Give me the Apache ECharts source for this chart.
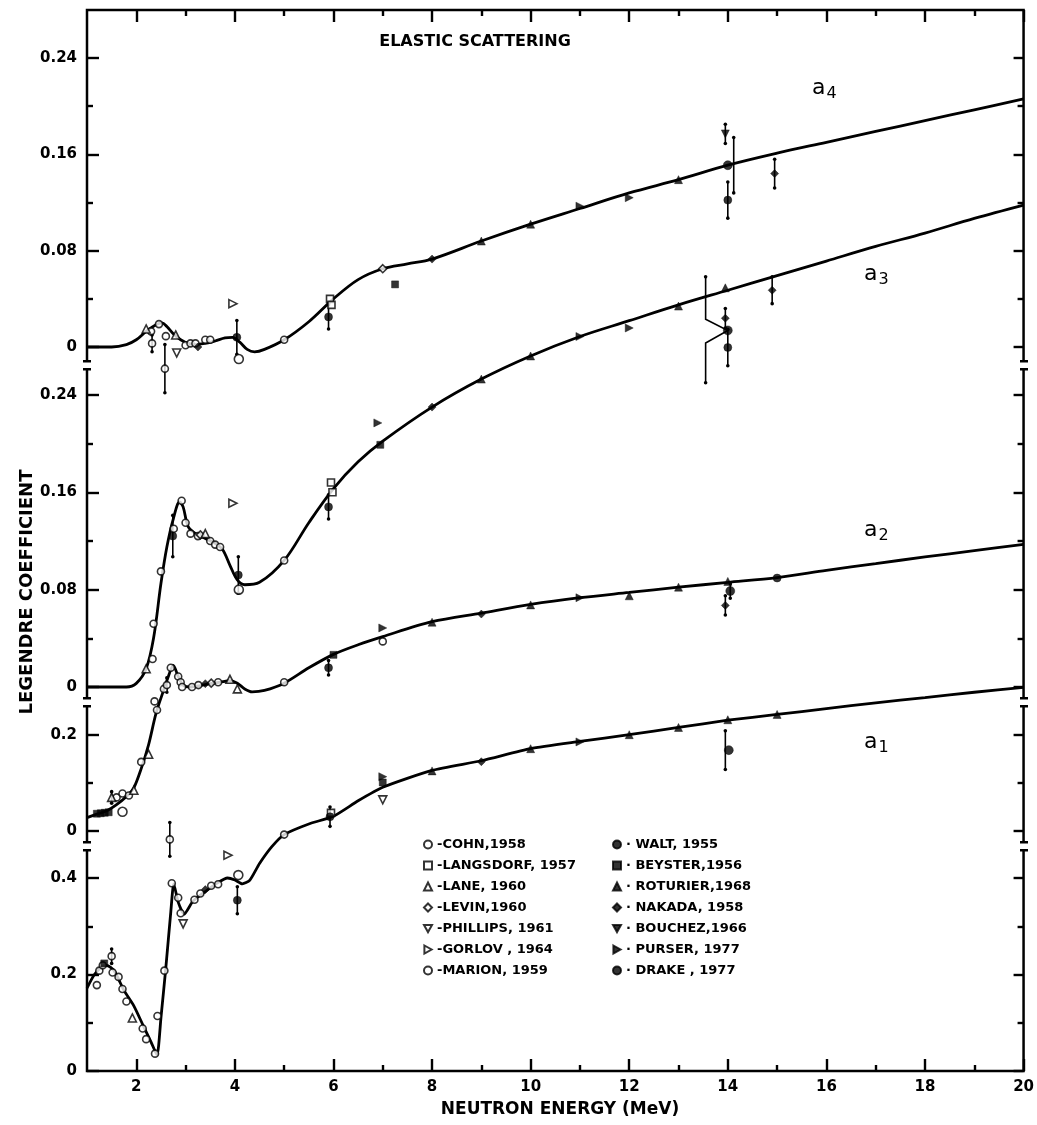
<!DOCTYPE html>
<html><head><meta charset="utf-8">
<script src="https://cdn.jsdelivr.net/npm/echarts@6.0.0/dist/echarts.min.js"></script>
<style>html,body{margin:0;padding:0;background:#fff}#c{width:1037px;height:1125px}</style>
</head><body><div id="c"></div><script>
// ---------------- DATA ----------------
const X_MIN = 1, X_MAX = 20;
const X_MAJOR = [2,4,6,8,10,12,14,16,18,20];
const X_MINOR = [3,5,7,9,11,13,15,17,19];

const A4_MAJOR = [0,0.08,0.16,0.24], A4_MINOR = [0.04,0.12,0.20];
const A3_MAJOR = [0,0.08,0.16,0.24], A3_MINOR = [0.04,0.12,0.20];
const A2_MAJOR = [0,0.2], A2_MINOR = [0.1];
const A1_MAJOR = [0,0.2,0.4], A1_MINOR = [0.1,0.3];

const LEGEND_LEFT = ['COHN,1958','LANGSDORF, 1957','LANE, 1960','LEVIN,1960','PHILLIPS, 1961','GORLOV , 1964','MARION, 1959'];
const LEGEND_RIGHT = ['WALT, 1955','BEYSTER,1956','ROTURIER,1968','NAKADA, 1958','BOUCHEZ,1966','PURSER, 1977','DRAKE , 1977'];

const A4_CURVE = [[1,0],[1.5,0],[1.8,0.002],[2.0,0.006],[2.2,0.013],[2.4,0.0185],[2.52,0.02],[2.62,0.017],[2.75,0.011],[2.9,0.006],[3.05,0.003],[3.2,0.002],[3.4,0.003],[3.6,0.005],[3.8,0.0075],[3.95,0.008],[4.1,0.004],[4.25,-0.002],[4.4,-0.004],[4.6,-0.002],[5.0,0.006],[5.5,0.021],[6.0,0.04],[6.5,0.056],[7.0,0.065],[7.5,0.069],[8.0,0.073],[9,0.088],[10,0.102],[11,0.115],[12,0.128],[13,0.139],[14,0.151],[15,0.161],[16,0.17],[17,0.179],[18,0.188],[19,0.197],[20,0.206]];
const A3_CURVE = [[1,0],[1.8,0],[2.0,0.003],[2.2,0.015],[2.35,0.04],[2.5,0.085],[2.62,0.115],[2.75,0.138],[2.88,0.152],[2.95,0.148],[3.05,0.132],[3.2,0.126],[3.4,0.122],[3.6,0.118],[3.75,0.113],[3.9,0.1],[4.05,0.088],[4.2,0.084],[4.5,0.086],[5.0,0.104],[5.5,0.135],[6.0,0.163],[6.5,0.185],[7.0,0.202],[8,0.23],[9,0.253],[10,0.272],[11,0.288],[12,0.301],[13,0.314],[14,0.326],[15,0.338],[16,0.35],[17,0.362],[18,0.373],[19,0.385],[20,0.396]];
const A2_CURVE = [[1,0.028],[1.2,0.035],[1.4,0.042],[1.6,0.055],[1.8,0.072],[1.95,0.09],[2.1,0.13],[2.25,0.18],[2.4,0.245],[2.55,0.292],[2.65,0.322],[2.75,0.345],[2.85,0.322],[2.95,0.304],[3.1,0.3],[3.3,0.303],[3.5,0.307],[3.7,0.31],[3.9,0.313],[4.05,0.308],[4.2,0.296],[4.35,0.29],[4.6,0.293],[5.0,0.308],[5.5,0.34],[6.0,0.368],[6.5,0.388],[7.0,0.405],[8,0.436],[9,0.454],[10,0.472],[11,0.486],[12,0.497],[13,0.508],[14,0.518],[15,0.528],[16,0.543],[17,0.557],[18,0.571],[19,0.584],[20,0.597]];
const A1_CURVE = [[1,0.172],[1.15,0.2],[1.3,0.216],[1.4,0.219],[1.55,0.208],[1.75,0.167],[1.95,0.135],[2.15,0.092],[2.3,0.06],[2.42,0.033],[2.5,0.11],[2.6,0.215],[2.7,0.33],[2.76,0.388],[2.85,0.35],[2.97,0.325],[3.15,0.352],[3.4,0.372],[3.65,0.39],[3.85,0.4],[4.0,0.396],[4.15,0.388],[4.3,0.395],[4.5,0.43],[4.75,0.465],[5.0,0.49],[5.5,0.512],[6.0,0.528],[6.5,0.56],[7.0,0.588],[8,0.623],[9,0.643],[10,0.668],[11,0.683],[12,0.697],[13,0.712],[14,0.727],[15,0.739],[16,0.751],[17,0.763],[18,0.774],[19,0.785],[20,0.795]];

const A4_COHN = [[2.3,0.013],[2.32,0.003],[2.46,0.019],[2.58,-0.018],[2.6,0.009],[3.0,0.0015],[3.1,0.003],[3.2,0.003],[3.4,0.006],[3.5,0.006],[5.0,0.006]];
const A4_LEVIN = [[7.0,0.065]];
const A4_MARION = [[4.08,-0.01]];
const A4_LANE = [[2.2,0.015],[2.8,0.01]];
const A4_PHILLIPS = [[2.82,-0.005]];
const A4_LANGSDORF = [[5.93,0.04],[5.96,0.035]];
const A4_GORLOV = [[3.96,0.036]];
const A4_WALT = [[4.04,0.008],[5.9,0.025],[14.0,0.122]];
const A4_BEYSTER = [[7.25,0.052]];
const A4_ROTURIER = [[9,0.088],[10,0.102],[13,0.139]];
const A4_NAKADA = [[3.25,0.0],[8,0.073],[14.95,0.144]];
const A4_BOUCHEZ = [[13.95,0.177]];
const A4_PURSER = [[11,0.117],[12,0.124]];
const A4_DRAKE = [[14.0,0.151]];
const A4_ERR = [[2.32,0.003,0.007],[2.58,-0.018,0.02],[4.04,0.008,0.014],[5.9,0.025,0.01],[14.0,0.122,0.015],[14.95,0.144,0.012],[13.95,0.177,0.008],[14.12,0.151,0.023]];

const A3_COHN = [[2.33,0.023],[2.35,0.052],[2.5,0.095],[2.76,0.13],[2.92,0.153],[3.0,0.135],[3.1,0.126],[3.25,0.124],[3.5,0.12],[3.6,0.117],[3.7,0.115],[5.0,0.104]];
const A3_LEVIN = [[3.3,0.125]];
const A3_MARION = [[4.08,0.08]];
const A3_LANE = [[2.2,0.015],[3.4,0.126]];
const A3_LANGSDORF = [[5.95,0.168],[5.98,0.16]];
const A3_GORLOV = [[3.96,0.151]];
const A3_WALT = [[2.74,0.124],[4.07,0.092],[5.9,0.148],[14.0,0.279]];
const A3_BEYSTER = [[6.95,0.199]];
const A3_PURSER = [[6.9,0.217],[11,0.288],[12,0.295]];
const A3_NAKADA = [[8,0.23],[13.95,0.303],[14.9,0.326]];
const A3_ROTURIER = [[9,0.253],[10,0.272],[13,0.313],[13.95,0.328]];
const A3_DRAKE = [[14.0,0.293]];
const A3_ERR = [[2.74,0.124,0.017],[4.07,0.092,0.015],[5.9,0.148,0.01],[14.0,0.279,0.015],[13.95,0.303,0.008],[14.9,0.326,0.011],[13.55,0.2935,0.0435,14.0,0.293]];

const A2_COHN = [[1.6,0.07],[1.72,0.078],[1.85,0.074],[2.1,0.144],[2.37,0.27],[2.42,0.252],[2.56,0.296],[2.62,0.304],[2.7,0.34],[2.85,0.322],[2.9,0.31],[2.93,0.3],[3.13,0.3],[3.26,0.304],[3.66,0.31],[5.0,0.31],[7.0,0.395]];
const A2_LEVIN = [[3.52,0.308]];
const A2_MARION = [[1.72,0.04]];
const A2_LANE = [[1.5,0.07],[1.95,0.085],[2.25,0.16],[3.9,0.316],[4.05,0.296]];
const A2_BEYSTER = [[1.2,0.036],[1.28,0.037],[1.36,0.038],[1.44,0.039],[6.0,0.367]];
const A2_WALT = [[5.9,0.34],[15,0.527]];
const A2_NAKADA = [[3.4,0.307],[9,0.452],[13.95,0.47]];
const A2_ROTURIER = [[8,0.435],[10,0.471],[12,0.49],[13,0.508],[14,0.52]];
const A2_PURSER = [[7,0.423],[11,0.486]];
const A2_DRAKE = [[14.05,0.5]];
const A2_ERR = [[2.62,0.304,0.015],[1.5,0.07,0.012],[5.9,0.34,0.015],[13.95,0.47,0.02],[14.05,0.5,0.015]];

const A1_COHN = [[1.2,0.178],[1.25,0.208],[1.32,0.219],[1.5,0.238],[1.52,0.204],[1.64,0.195],[1.72,0.17],[1.8,0.144],[2.13,0.088],[2.2,0.066],[2.38,0.036],[2.43,0.114],[2.57,0.208],[2.68,0.48],[2.72,0.389],[2.85,0.359],[2.9,0.327],[3.18,0.355],[3.3,0.368],[3.52,0.384],[3.66,0.387],[5.0,0.49]];
const A1_MARION = [[4.07,0.406]];
const A1_LANE = [[1.92,0.11]];
const A1_PHILLIPS = [[2.95,0.305],[7,0.562]];
const A1_GORLOV = [[3.86,0.447]];
const A1_LANGSDORF = [[5.95,0.535]];
const A1_WALT = [[4.05,0.354],[5.93,0.527]];
const A1_BEYSTER = [[1.35,0.223],[7,0.598]];
const A1_NAKADA = [[3.4,0.376],[9,0.641]];
const A1_ROTURIER = [[8,0.622],[10,0.668],[12,0.697],[13,0.712],[14,0.728],[15,0.739]];
const A1_PURSER = [[7,0.61],[11,0.682]];
const A1_DRAKE = [[14.02,0.665]];
const A1_ERR = [[1.5,0.238,0.015],[2.68,0.48,0.035],[4.05,0.354,0.028],[5.93,0.527,0.02],[13.95,0.665,0.04]];

// ---------------- LAYOUT / STYLE ----------------
const FONT = 'DejaVu Sans';
const GRID = {left: 87, top: 10, right: 1024, bottom: 1071};
const PANELS = [
  {label:'4', zeroY:347,  ppu:1204,  dec:2, major:A4_MAJOR, minor:A4_MINOR, curve:A4_CURVE, err:A4_ERR, smooth:0.35},
  {label:'3', zeroY:687,  ppu:1217,  dec:2, major:A3_MAJOR, minor:A3_MINOR, curve:A3_CURVE, err:A3_ERR, smooth:0.35},
  {label:'2', zeroY:831,  ppu:480,   dec:1, major:A2_MAJOR, minor:A2_MINOR, curve:A2_CURVE, err:A2_ERR, smooth:0.3},
  {label:'1', zeroY:1071, ppu:482.5, dec:1, major:A1_MAJOR, minor:A1_MINOR, curve:A1_CURVE, err:A1_ERR, smooth:0.2}
];
const TRI_DOWN = 'path://M0,0L10,0L5,9Z';
const TRI_RIGHT = 'path://M0,0L9,5L0,10Z';
const SYMS = {
  'COHN,1958':       {symbol:'circle',   size:7, open:true},
  'LANGSDORF, 1957': {symbol:'rect',     size:7, open:true},
  'LANE, 1960':      {symbol:'triangle', size:8, open:true},
  'LEVIN,1960':      {symbol:'diamond',  size:8, open:true},
  'PHILLIPS, 1961':  {symbol:TRI_DOWN,   size:8, open:true},
  'GORLOV , 1964':   {symbol:TRI_RIGHT,  size:8, open:true},
  'MARION, 1959':    {symbol:'circle',   size:9, open:true},
  'WALT, 1955':      {symbol:'circle',   size:8},
  'BEYSTER,1956':    {symbol:'rect',     size:7},
  'ROTURIER,1968':   {symbol:'triangle', size:8},
  'NAKADA, 1958':    {symbol:'diamond',  size:8},
  'BOUCHEZ,1966':    {symbol:TRI_DOWN,   size:8},
  'PURSER, 1977':    {symbol:TRI_RIGHT,  size:8},
  'DRAKE , 1977':    {symbol:'circle',   size:9}
};
const POINT_SETS = [
  [0,'COHN,1958',A4_COHN],[0,'LEVIN,1960',A4_LEVIN],[0,'MARION, 1959',A4_MARION],[0,'LANE, 1960',A4_LANE],[0,'PHILLIPS, 1961',A4_PHILLIPS],[0,'LANGSDORF, 1957',A4_LANGSDORF],[0,'GORLOV , 1964',A4_GORLOV],[0,'WALT, 1955',A4_WALT],[0,'BEYSTER,1956',A4_BEYSTER],[0,'ROTURIER,1968',A4_ROTURIER],[0,'NAKADA, 1958',A4_NAKADA],[0,'BOUCHEZ,1966',A4_BOUCHEZ],[0,'PURSER, 1977',A4_PURSER],[0,'DRAKE , 1977',A4_DRAKE],
  [1,'COHN,1958',A3_COHN],[1,'LEVIN,1960',A3_LEVIN],[1,'MARION, 1959',A3_MARION],[1,'LANE, 1960',A3_LANE],[1,'LANGSDORF, 1957',A3_LANGSDORF],[1,'GORLOV , 1964',A3_GORLOV],[1,'WALT, 1955',A3_WALT],[1,'BEYSTER,1956',A3_BEYSTER],[1,'PURSER, 1977',A3_PURSER],[1,'NAKADA, 1958',A3_NAKADA],[1,'ROTURIER,1968',A3_ROTURIER],[1,'DRAKE , 1977',A3_DRAKE],
  [2,'COHN,1958',A2_COHN],[2,'LEVIN,1960',A2_LEVIN],[2,'MARION, 1959',A2_MARION],[2,'LANE, 1960',A2_LANE],[2,'BEYSTER,1956',A2_BEYSTER],[2,'WALT, 1955',A2_WALT],[2,'NAKADA, 1958',A2_NAKADA],[2,'ROTURIER,1968',A2_ROTURIER],[2,'PURSER, 1977',A2_PURSER],[2,'DRAKE , 1977',A2_DRAKE],
  [3,'COHN,1958',A1_COHN],[3,'MARION, 1959',A1_MARION],[3,'LANE, 1960',A1_LANE],[3,'PHILLIPS, 1961',A1_PHILLIPS],[3,'GORLOV , 1964',A1_GORLOV],[3,'LANGSDORF, 1957',A1_LANGSDORF],[3,'WALT, 1955',A1_WALT],[3,'BEYSTER,1956',A1_BEYSTER],[3,'NAKADA, 1958',A1_NAKADA],[3,'ROTURIER,1968',A1_ROTURIER],[3,'PURSER, 1977',A1_PURSER],[3,'DRAKE , 1977',A1_DRAKE]
];
const BREAK_Y = [365, 702, 846];

// ---------------- BUILD ----------------
const H = GRID.bottom - GRID.top;
const tickStyle = {color:'#000', width:2.4};
function xAx(pos, vals, len, labels) {
  return {type:'value', gridIndex:0, position:pos, min:X_MIN, max:X_MAX,
    axisLine:{show:false, onZero:false}, splitLine:{show:false},
    axisTick:{show:true, inside:true, length:len, lineStyle:tickStyle, customValues:vals},
    axisLabel: labels ? {show:true, customValues:labels, margin:9, color:'#000', fontSize:15, fontWeight:'bold', fontFamily:FONT} : {show:false}};
}
const xAxes = [xAx('bottom', X_MAJOR, 12, X_MAJOR), xAx('bottom', X_MINOR, 6, null), xAx('top', X_MAJOR, 12, null), xAx('top', X_MINOR, 6, null)];

const yAxes = [];
PANELS.forEach(p => {
  const min = -(GRID.bottom - p.zeroY) / p.ppu;
  const max = (p.zeroY - GRID.top) / p.ppu;
  const mk = (side, vals, len, labels) => ({type:'value', gridIndex:0, position:side, min, max,
    axisLine:{show:false, onZero:false}, splitLine:{show:false},
    axisTick:{show:true, inside:true, length:len, lineStyle:tickStyle, customValues:vals},
    axisLabel: labels ? {show:true, customValues:labels, margin:10, color:'#000', fontSize:15, fontWeight:'bold', fontFamily:FONT,
      formatter: v => Math.abs(v) < 1e-9 ? '0' : v.toFixed(p.dec)} : {show:false}});
  yAxes.push(mk('left', p.major, 12, p.major), mk('left', p.minor, 6, null), mk('right', p.major, 10, null), mk('right', p.minor, 6, null));
});

function errRender(params, api) {
  const bx = api.value(0), c = api.value(1), e = api.value(2);
  const top = api.coord([bx, c + e]), bot = api.coord([bx, c - e]);
  const dots = [
    {type:'circle', shape:{cx:top[0], cy:top[1], r:1.8}, style:{fill:'#000'}},
    {type:'circle', shape:{cx:bot[0], cy:bot[1], r:1.8}, style:{fill:'#000'}}
  ];
  const px = api.value(3), py = api.value(4);
  let pts;
  if (px != null && !isNaN(px)) {
    const pt = api.coord([px, py]);
    const m1 = api.coord([bx, c + e * 0.2]), m2 = api.coord([bx, c - e * 0.25]);
    pts = [top, m1, pt, m2, bot];
  } else {
    pts = [top, bot];
  }
  return {type:'group', children:[{type:'polyline', shape:{points:pts}, style:{stroke:'#000', lineWidth:1.6, fill:null}}].concat(dots)};
}

const series = [];
PANELS.forEach((p, i) => {
  series.push({type:'line', name:'curve'+p.label, xAxisIndex:0, yAxisIndex:4*i, data:p.curve,
    showSymbol:false, smooth:p.smooth, lineStyle:{color:'#000', width:2.8}, z:2, silent:true});
  series.push({type:'custom', name:'err'+p.label, xAxisIndex:0, yAxisIndex:4*i, renderItem:errRender,
    data:p.err.map(r => [r[0], r[1], r[2], r.length > 3 ? r[3] : NaN, r.length > 4 ? r[4] : NaN]),
    encode:{x:0, y:[1,2]}, z:3, silent:true});
});
POINT_SETS.forEach(([pi, name, data]) => {
  const s = SYMS[name];
  series.push({type:'scatter', name, xAxisIndex:0, yAxisIndex:4*pi, data,
    symbol:s.symbol, symbolSize:s.size,
    itemStyle: s.open ? {color:'#fff', borderColor:'#000', borderWidth:1.6} : {color:'#000', borderColor:'#000', borderWidth:0.5},
    z:4, silent:true});
});

const legendText = {fontSize:13, fontWeight:'bold', fontFamily:FONT, color:'#000'};
const legendItem = n => ({name:n, icon:SYMS[n].symbol});
const legends = [
  {data:LEGEND_LEFT.map(legendItem), orient:'vertical', left:418, top:833, itemGap:8, itemWidth:8, itemHeight:8, selectedMode:false, textStyle:legendText, formatter: n => '-' + n},
  {data:LEGEND_RIGHT.map(legendItem), orient:'vertical', left:607, top:833, itemGap:8, itemWidth:8, itemHeight:8, selectedMode:false, textStyle:legendText, formatter: n => '· ' + n}
];

const graphics = [
  {type:'text', x:475, y:42, style:{text:'ELASTIC SCATTERING', font:'bold 16px "DejaVu Sans"', fill:'#000', align:'center', verticalAlign:'middle'}},
  {type:'text', x:560, y:1110, style:{text:'NEUTRON ENERGY (MeV)', font:'bold 17px "DejaVu Sans"', fill:'#000', align:'center', verticalAlign:'middle'}},
  {type:'text', x:27, y:592, rotation:Math.PI/2, style:{text:'LEGENDRE COEFFICIENT', font:'bold 18px "DejaVu Sans"', fill:'#000', align:'center', verticalAlign:'middle'}}
];
const LABEL_POS = [[812, 88], [864, 274], [864, 530], [864, 742]];
PANELS.forEach((p, i) => {
  graphics.push({type:'text', x:LABEL_POS[i][0], y:LABEL_POS[i][1], style:{
    text:'{a|a}{s|' + p.label + '}', fill:'#000', verticalAlign:'middle',
    rich:{a:{fontSize:22, fontFamily:FONT, fill:'#000'}, s:{fontSize:16, fontFamily:FONT, fill:'#000', padding:[12,0,0,1]}}}});
});
[GRID.left, GRID.right].forEach(x => {
  BREAK_Y.forEach(y => {
    graphics.push({type:'rect', z:100, shape:{x:x-3, y:y-3, width:6, height:6}, style:{fill:'#fff'}});
    graphics.push({type:'rect', z:100, shape:{x:x-4, y:y-5, width:8, height:2.5}, style:{fill:'#000'}});
    graphics.push({type:'rect', z:100, shape:{x:x-4, y:y+3, width:8, height:2.5}, style:{fill:'#000'}});
  });
});

const chart = echarts.init(document.getElementById('c'), null, {renderer:'canvas'});
chart.setOption({
  animation:false,
  backgroundColor:'#fff',
  grid:{left:GRID.left, top:GRID.top, width:GRID.right-GRID.left, height:H, show:true, borderColor:'#000', borderWidth:2.5, backgroundColor:'transparent'},
  xAxis:xAxes, yAxis:yAxes, series, legend:legends, graphic:graphics
});
</script></body></html>
